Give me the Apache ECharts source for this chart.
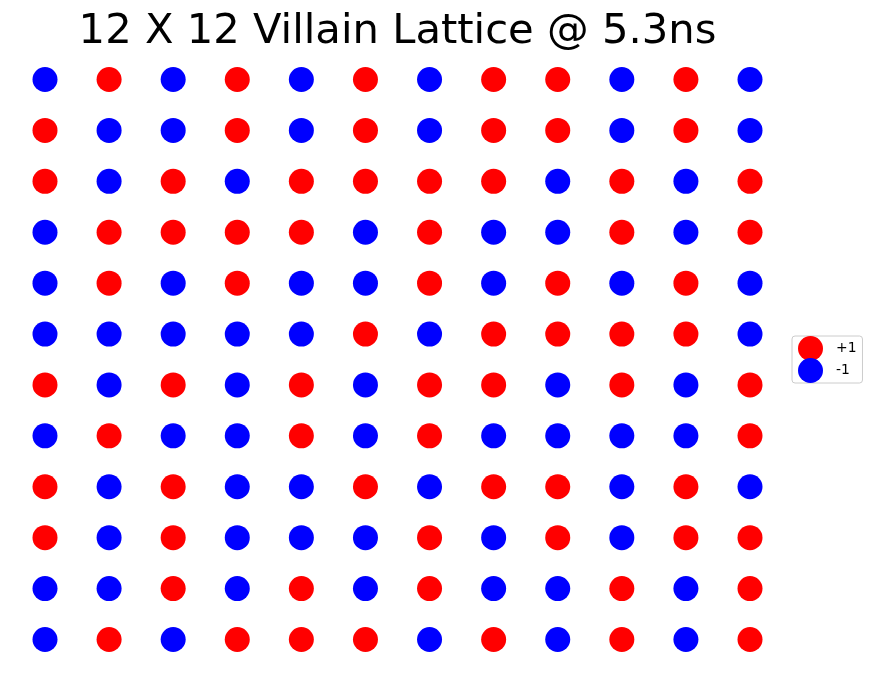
<!DOCTYPE html>
<html>
<head>
<meta charset="utf-8">
<script src="https://cdn.jsdelivr.net/npm/echarts@6/dist/echarts.min.js"></script>
<style>html,body{margin:0;padding:0;background:#fff;}#c{width:872px;height:677px;}</style>
</head>
<body>
<div id="c"></div>
<script>
const titleText = '12 X 12 Villain Lattice @ 5.3ns';
const seriesNames = ['+1', '-1'];
const seriesColors = ['#ff0000', '#0000ff'];
// Spin lattice rows (top to bottom), 1 = +1 (red), -1 = -1 (blue)
const row1  = [-1, 1,-1, 1,-1, 1,-1, 1, 1,-1, 1,-1];
const row2  = [ 1,-1,-1, 1,-1, 1,-1, 1, 1,-1, 1,-1];
const row3  = [ 1,-1, 1,-1, 1, 1, 1, 1,-1, 1,-1, 1];
const row4  = [-1, 1, 1, 1, 1,-1, 1,-1,-1, 1,-1, 1];
const row5  = [-1, 1,-1, 1,-1,-1, 1,-1, 1,-1, 1,-1];
const row6  = [-1,-1,-1,-1,-1, 1,-1, 1, 1, 1, 1,-1];
const row7  = [ 1,-1, 1,-1, 1,-1, 1, 1,-1, 1,-1, 1];
const row8  = [-1, 1,-1,-1, 1,-1, 1,-1,-1,-1,-1, 1];
const row9  = [ 1,-1, 1,-1,-1, 1,-1, 1, 1,-1, 1,-1];
const row10 = [ 1,-1, 1,-1,-1,-1, 1,-1, 1,-1, 1, 1];
const row11 = [-1,-1, 1,-1, 1,-1, 1,-1,-1, 1,-1, 1];
const row12 = [-1, 1,-1, 1, 1, 1,-1, 1,-1, 1,-1, 1];
const lattice = [row1,row2,row3,row4,row5,row6,row7,row8,row9,row10,row11,row12];

const plus = [], minus = [];
lattice.forEach((row, r) => row.forEach((s, c) => {
  (s === 1 ? plus : minus).push([c, r]);
}));

const chart = echarts.init(document.getElementById('c'), null, {renderer: 'canvas'});
chart.setOption({
  animation: false,
  backgroundColor: '#ffffff',
  title: {
    text: titleText,
    left: 392.5,
    textAlign: 'center',
    top: 6,
    textStyle: {fontFamily: 'DejaVu Sans', fontSize: 41.7, fontWeight: 'normal', color: '#000'}
  },
  legend: {
    orient: 'vertical',
    left: 792,
    top: 336,
    padding: [0, 6, 0, 6],
    itemGap: -3,
    itemWidth: 25,
    itemHeight: 25,
    borderColor: '#cccccc',
    borderWidth: 1,
    borderRadius: 3,
    icon: 'circle',
    textStyle: {fontFamily: 'DejaVu Sans', fontSize: 13.9, color: '#000', padding: [0,0,0,8]},
    data: seriesNames
  },
  grid: {left: 12.95, top: 54.05, width: 769.1, height: 610.9},
  xAxis: {type: 'value', min: -0.5, max: 11.5, show: false},
  yAxis: {type: 'value', min: -0.5, max: 11.5, inverse: true, show: false},
  series: [
    {name: seriesNames[0], type: 'scatter', data: plus, symbol: 'circle', symbolSize: 25,
     itemStyle: {color: seriesColors[0], opacity: 1}, emphasis: {disabled: true}},
    {name: seriesNames[1], type: 'scatter', data: minus, symbol: 'circle', symbolSize: 25,
     itemStyle: {color: seriesColors[1], opacity: 1}, emphasis: {disabled: true}}
  ]
});
</script>
</body>
</html>
